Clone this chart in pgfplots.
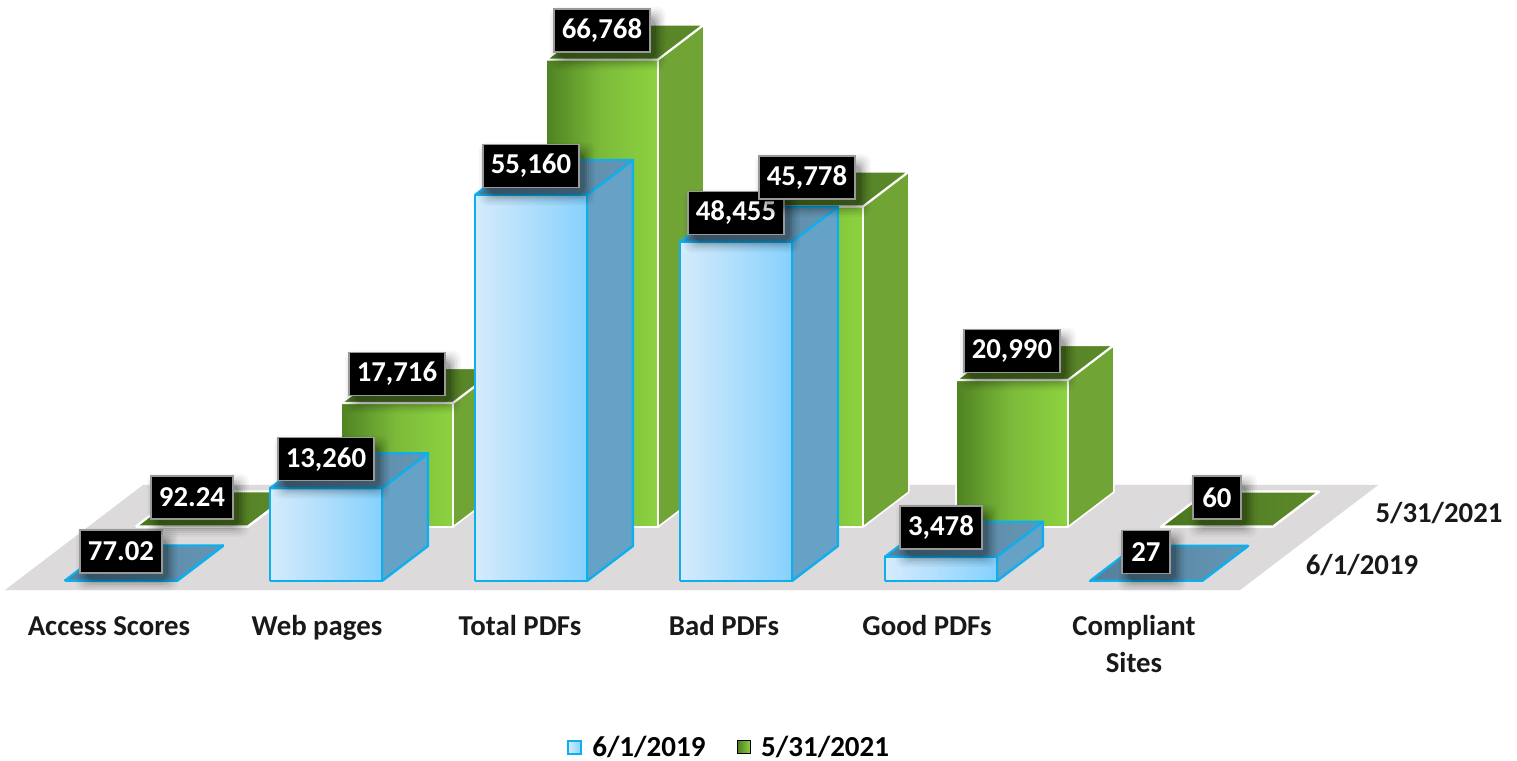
\documentclass[border=0pt]{standalone}
\usepackage{fontspec}
\setmainfont{Carlito}
\usepackage{pgfplots}
\pgfplotsset{compat=1.18}
\definecolor{floorc}{HTML}{DCDADB}
\definecolor{bedge}{HTML}{0FAEEC}
\definecolor{bl}{HTML}{D5EBFC}
\definecolor{br}{HTML}{86D1FD}
\definecolor{bm}{HTML}{AEDEFC}
\definecolor{bside}{HTML}{66A2C6}
\definecolor{btopa}{HTML}{55809C}
\definecolor{btopb}{HTML}{6496B4}
\definecolor{gl}{HTML}{4F8222}
\definecolor{gm}{HTML}{7CBB3A}
\definecolor{gr}{HTML}{8DD33F}
\definecolor{gside}{HTML}{70A535}
\definecolor{gtopa}{HTML}{4A7620}
\definecolor{gtopb}{HTML}{5C8A2A}
% x = category, y = series depth, z = value
\newcommand\drawbar[7]{% x, y, value, edge, edgewidth, side, front shading
  \pgfmathsetmacro\xa{#1}\pgfmathsetmacro\xb{#1+0.546}
  \pgfmathsetmacro\ya{#2}\pgfmathsetmacro\yb{#2+0.648}
  \edef\tmp{\noexpand\addplot3[draw=#4,line width=#5,fill=#6,line join=round,no markers] coordinates
    {(\xb,\ya,0) (\xb,\yb,0) (\xb,\yb,#3) (\xb,\ya,#3) (\xb,\ya,0)};}\tmp
  \edef\tmp{\noexpand\addplot3[draw=#4,line width=#5,line join=round,no markers,#7] coordinates
    {(\xa,\ya,0) (\xb,\ya,0) (\xb,\ya,#3) (\xa,\ya,#3) (\xa,\ya,0)};}\tmp
}
\newcommand\drawtop[5]{% x, y, value, edge, colours
  \pgfmathsetmacro\xa{#1}\pgfmathsetmacro\xb{#1+0.546}
  \pgfmathsetmacro\ya{#2}\pgfmathsetmacro\yb{#2+0.648}
  \edef\tmp{\noexpand\addplot3[draw=#4,line width=1.1pt,line join=round,no markers,#5] coordinates
    {(\xa,\ya,#3) (\xb,\ya,#3) (\xb,\yb,#3) (\xa,\yb,#3) (\xa,\ya,#3)};}\tmp
}
\newcommand\greenbar[3]{%
  \drawbar{#1}{#2}{#3}{white}{0.8pt}{gside}{left color=gl,right color=gr,middle color=gm}
  \drawtop{#1}{#2}{#3}{white}{left color=gtopa,right color=gtopb}}
\newcommand\bluebar[3]{%
  \drawbar{#1}{#2}{#3}{bedge}{1.2pt}{bside}{left color=bl,right color=br,middle color=bm}
  \drawtop{#1}{#2}{#3}{bedge}{left color=btopa,right color=btopb}}
\newcommand\shd[6]{% x,y,value,width,grow,opacity
  \node[fill=black,fill opacity=#6,inner sep=0pt,rounded corners=4pt,
      minimum width=#4+#5,minimum height=21.5pt+#5,shift={(3pt,10.5pt)}] at (axis cs:#1+0.273,#2,#3) {};}
\newcommand\lab[5]{% x, y, value, box width, text
  \shd{#1}{#2}{#3}{#4}{10pt}{.03}
  \shd{#1}{#2}{#3}{#4}{8pt}{.04}
  \shd{#1}{#2}{#3}{#4}{6pt}{.05}
  \shd{#1}{#2}{#3}{#4}{4pt}{.07}
  \shd{#1}{#2}{#3}{#4}{2pt}{.09}
  \shd{#1}{#2}{#3}{#4}{0pt}{.12}
  \node[fill=black,draw=black!40,line width=0.7pt,text=white,inner sep=0pt,
    minimum width=#4,minimum height=21.5pt,shift={(0pt,14.5pt)},
    font=\bfseries\fontsize{14.4pt}{15pt}\selectfont] at (axis cs:#1+0.273,#2,#3) {#5};
}
\begin{document}
\begin{tikzpicture}[x=0.5pt,y=-0.5pt]
\begin{axis}[
  at={(32.5pt,-290.5pt)},anchor=origin,
  x={(102.5pt,0pt)},y={(35.5pt,27pt)},z={(0pt,0.0035pt)},
  xmin=-0.235,xmax=5.79,ymin=-0.167,ymax=1.778,zmin=0,zmax=66768,
  hide axis,clip=false,
  legend style={at={(axis cs:4.315,-3.09,0)},anchor=center,draw=none,fill=none,
    legend columns=2,font=\bfseries\fontsize{14.5pt}{16pt}\selectfont,
    /tikz/every even column/.append style={column sep=14pt},
    /tikz/column 1/.style={column sep=3pt},/tikz/column 3/.style={column sep=3pt}},
]
\addlegendimage{legend image code/.code={\path[draw=bedge,line width=1pt,left color=bl,right color=br] (1.5pt,-3pt) rectangle (8pt,3.5pt);}}
\addlegendentry{6/1/2019}
\addlegendimage{legend image code/.code={\path[left color=gl,right color=gr] (1pt,-3pt) rectangle (7.5pt,3.5pt);}}
\addlegendentry{5/31/2021}
% floor
\addplot3[draw=none,fill=floorc,no markers,forget plot] coordinates
  {(-0.235,-0.167,0) (5.79,-0.167,0) (5.79,1.778,0) (-0.235,1.778,0) (-0.235,-0.167,0)};
\pgfplotsset{every axis plot/.append style={forget plot}}
% series 5/31/2021 (back)
\greenbar{0}{1}{92.24}
\greenbar{1}{1}{17716}
\greenbar{2}{1}{66768}
\greenbar{3}{1}{45778}
\greenbar{4}{1}{20990}
\greenbar{5}{1}{60}
% series 6/1/2019 (front)
\bluebar{0}{0}{77.02}
\bluebar{1}{0}{13260}
\bluebar{2}{0}{55160}
\bluebar{3}{0}{48455}
\bluebar{4}{0}{3478}
\bluebar{5}{0}{27}
% value labels
\lab{0}{0}{77.02}{41pt}{77.02}
\lab{1}{0}{13260}{48pt}{13,260}
\lab{2}{0}{55160}{48pt}{55,160}
\lab{3}{0}{48455}{48pt}{48,455}
\lab{4}{0}{3478}{41pt}{3,478}
\lab{5}{0}{27}{24pt}{27}
\lab{0}{1}{92.24}{41pt}{92.24}
\lab{1}{1}{17716}{48pt}{17,716}
\lab{2}{1}{66768}{48pt}{66,768}
\lab{3}{1}{45778}{48pt}{45,778}
\lab{4}{1}{20990}{48pt}{20,990}
\lab{5}{1}{60}{24pt}{60}
\end{axis}
\begin{scope}[every node/.style={font=\bfseries\fontsize{14.4pt}{18.5pt}\selectfont,text=black!90,inner sep=0pt,anchor=base}]
\node at (109,635) {Access Scores};
\node at (317,635) {Web pages};
\node at (520,635) {Total PDFs};
\node at (724,635) {Bad PDFs};
\node at (927,635) {Good PDFs};
\node at (1134,635) {Compliant};
\node at (1134,672) {Sites};
\node at (1439,522) {5/31/2021};
\node at (1362,574) {6/1/2019};
\end{scope}
\pgfresetboundingbox
\path[use as bounding box] (0,0) rectangle (1517,761);
\end{tikzpicture}
\end{document}
